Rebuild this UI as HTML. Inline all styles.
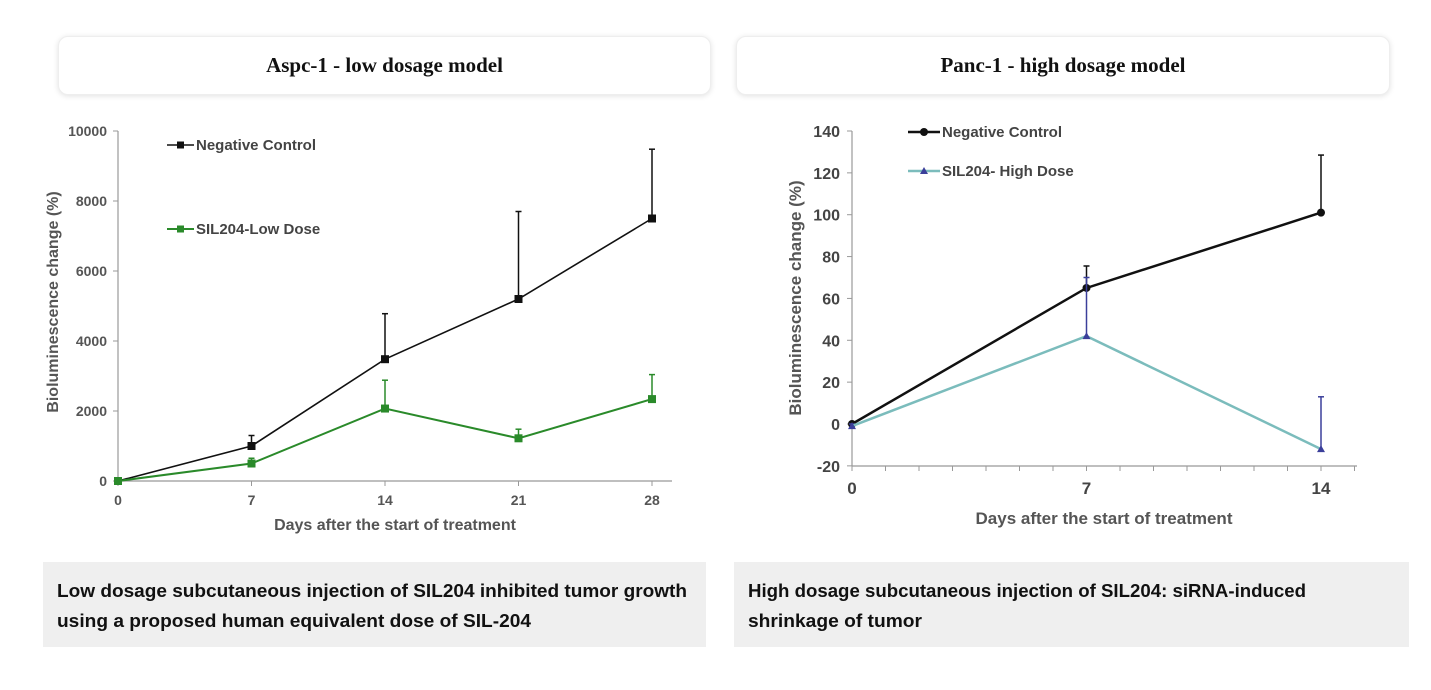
<!DOCTYPE html>
<html><head><meta charset="utf-8"><style>
body{margin:0;background:#fff;width:1431px;height:690px;overflow:hidden;font-family:"Liberation Sans",sans-serif}
.hdr{position:absolute;background:#fff;border-radius:10px;box-shadow:0 1px 6px rgba(0,0,0,0.12);border:1px solid #eee;display:flex;align-items:center;justify-content:center;font-family:"Liberation Serif",serif;font-weight:bold;font-size:21px;color:#111}
.cap{position:absolute;background:#efefef}
svg{position:absolute;left:0;top:0}
</style></head><body>
<div class="hdr" style="left:58px;top:36px;width:651px;height:57px">Aspc-1 - low dosage model</div>
<div class="hdr" style="left:736px;top:36px;width:652px;height:57px">Panc-1 - high dosage model</div>
<div class="cap" style="left:43px;top:562px;width:663px;height:85px"></div>
<div class="cap" style="left:734px;top:562px;width:675px;height:85px"></div>
<svg id="s" width="1431" height="690">
<g font-weight="bold" font-size="18" fill="#111">
<text x="57" y="597" textLength="630" lengthAdjust="spacingAndGlyphs">Low dosage subcutaneous injection of SIL204 inhibited tumor growth</text>
<text x="57" y="627" textLength="474" lengthAdjust="spacingAndGlyphs">using a proposed  human equivalent dose of SIL-204</text>
<text x="748" y="597" textLength="558" lengthAdjust="spacingAndGlyphs">High dosage subcutaneous injection of SIL204: siRNA-induced</text>
<text x="748" y="627" textLength="174" lengthAdjust="spacingAndGlyphs">shrinkage of tumor</text>
</g>
</svg>
<script>
// Left chart data
const leftDays=[0,7,14,21,28];
const leftYTicks=[0,2000,4000,6000,8000,10000];
const leftNC=[0,1000,3480,5200,7500];
const leftNCErr=[0,1300,4780,7700,9480];
const leftLow=[0,500,2070,1220,2340];
const leftLowErr=[0,650,2880,1480,3040];
// Right chart data
const rightDays=[0,7,14];
const rightYTicks=[-20,0,20,40,60,80,100,120,140];
const rightNC=[0,65,101];
const rightNCErr=[0,75.5,128.5];
const rightHD=[-1,42,-12];
const rightHDErr=[0,70,13];

const svg=document.getElementById('s');
const NS='http://www.w3.org/2000/svg';
function mk(tag,attrs,parent){const e=document.createElementNS(NS,tag);for(const k in attrs)e.setAttribute(k,attrs[k]);(parent||svg).appendChild(e);return e;}

// Left axes
const lx=d=>118+(d-0)*(652-118)/28;
const ly=v=>481-v*(481-131)/10000;
const LG=mk('g',{});


let e=mk('line',{x1:118,y1:131,x2:118,y2:481,stroke:'#999','stroke-width':1.2},LG);

e=mk('line',{x1:118,y1:481,x2:672,y2:481,stroke:'#999','stroke-width':1.2},LG);

leftYTicks.forEach(t=>{mk('line',{x1:113,x2:118,y1:ly(t),y2:ly(t),stroke:'#999'},LG);
 const tx=mk('text',{x:107,y:ly(t)+5,'text-anchor':'end','font-size':14,'font-weight':'bold',fill:'#555'},LG);tx.textContent=t;
 });
leftDays.forEach(d=>{mk('line',{x1:lx(d),x2:lx(d),y1:481,y2:486,stroke:'#999'},LG);
 const tx=mk('text',{x:lx(d),y:505,'text-anchor':'middle','font-size':14,'font-weight':'bold',fill:'#555'},LG);tx.textContent=d;
 });
e=mk('text',{x:395,y:530,'text-anchor':'middle','font-size':16,'font-weight':'bold',fill:'#555'},LG);e.textContent='Days after the start of treatment';

e=mk('text',{x:0,y:0,'text-anchor':'middle','font-size':16,'font-weight':'bold',fill:'#555',transform:'translate(58,302) rotate(-90)'},LG);e.textContent='Bioluminescence  change (%)';

function series(g,xs,vals,errs,xf,yf,col,ecol,w,marker,name){
 vals.forEach((v,i)=>{if(errs[i]>v){const l=mk('line',{x1:xf(xs[i]),x2:xf(xs[i]),y1:yf(v),y2:yf(errs[i]),stroke:ecol,'stroke-width':1.5},g);
  
  mk('line',{x1:xf(xs[i])-3,x2:xf(xs[i])+3,y1:yf(errs[i]),y2:yf(errs[i]),stroke:ecol,'stroke-width':1.5},g);}});
 const p=mk('polyline',{points:vals.map((v,i)=>xf(xs[i])+','+yf(v)).join(' '),fill:'none',stroke:col,'stroke-width':w},g);
 
 vals.forEach((v,i)=>{const x=xf(xs[i]),y=yf(v);let m;
  if(marker==='sq')m=mk('rect',{x:x-4,y:y-4,width:8,height:8,fill:col},g);
  else if(marker==='c')m=mk('circle',{cx:x,cy:y,r:4,fill:col},g);
  else m=mk('polygon',{points:`${x},${y-4} ${x-4},${y+3} ${x+4},${y+3}`,fill:'#3b3f9a'},g);
  });
}
series(LG,leftDays,leftNC,leftNCErr,lx,ly,'#111','#111',1.6,'sq','left-negative-control');
series(LG,leftDays,leftLow,leftLowErr,lx,ly,'#2a8a2a','#2a8a2a',2,'sq','left-low-dose');
function legend(g,x1,x2,y,col,w,marker,label,name){
 const gg=mk('g',{},g);
 mk('line',{x1:x1,x2:x2,y1:y,y2:y,stroke:col,'stroke-width':w},gg);
 const xm=(x1+x2)/2;
 if(marker==='sq')mk('rect',{x:xm-3.5,y:y-3.5,width:7,height:7,fill:col},gg);
 else if(marker==='c')mk('circle',{cx:xm,cy:y,r:4,fill:col},gg);
 else mk('polygon',{points:`${xm},${y-4} ${xm-4},${y+3} ${xm+4},${y+3}`,fill:'#3b3f9a'},gg);
 const t=mk('text',{x:x2+2,y:y+5,'font-size':15,'font-weight':'bold',fill:'#444'},gg);t.textContent=label;
}
legend(LG,167,194,145,'#111',1.6,'sq','Negative Control','left-legend-negative-control');
legend(LG,167,194,229,'#2a8a2a',2,'sq','SIL204-Low Dose','left-legend-low-dose');

// Right chart
const rx=d=>852+d*(1321-852)/14;
const ry=v=>424-v*(424-131)/140;
const RG=mk('g',{});


e=mk('line',{x1:852,y1:131,x2:852,y2:466,stroke:'#999','stroke-width':1.2},RG);

e=mk('line',{x1:852,y1:466,x2:1357,y2:466,stroke:'#999','stroke-width':1.2},RG);

rightYTicks.forEach(t=>{mk('line',{x1:847,x2:852,y1:ry(t),y2:ry(t),stroke:'#999'},RG);
 const tx=mk('text',{x:840,y:ry(t)+6,'text-anchor':'end','font-size':16,'font-weight':'bold',fill:'#444'},RG);tx.textContent=t;
 });
for(let d=0;d<=15;d++){mk('line',{x1:rx(d),x2:rx(d),y1:466,y2:471,stroke:'#999'},RG);}
rightDays.forEach(d=>{const tx=mk('text',{x:rx(d),y:494,'text-anchor':'middle','font-size':17,'font-weight':'bold',fill:'#444'},RG);tx.textContent=d;
 });
e=mk('text',{x:1104,y:524,'text-anchor':'middle','font-size':17,'font-weight':'bold',fill:'#555'},RG);e.textContent='Days after the start of treatment';

e=mk('text',{x:0,y:0,'text-anchor':'middle','font-size':17,'font-weight':'bold',fill:'#555',transform:'translate(801,298) rotate(-90)'},RG);e.textContent='Bioluminescence  change (%)';

series(RG,rightDays,rightNC,rightNCErr,rx,ry,'#111','#111',2.5,'c','right-negative-control');
series(RG,rightDays,rightHD,rightHDErr,rx,ry,'#7bbcbc','#3b3f9a',2.5,'t','right-high-dose');
legend(RG,908,940,132,'#111',2.5,'c','Negative Control','right-legend-negative-control');
legend(RG,908,940,171,'#7bbcbc',2.5,'t','SIL204- High Dose','right-legend-high-dose');
</script>
</body></html>
